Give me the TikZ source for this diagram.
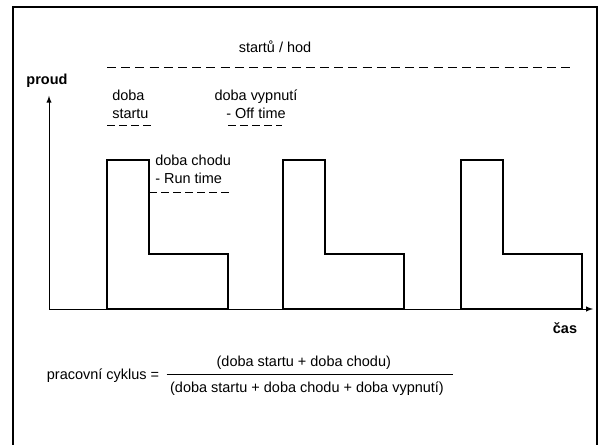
\documentclass[tikz,border=0pt]{standalone}
\usepackage{fontspec}
\setmainfont{Liberation Sans}
\begin{document}
\begin{tikzpicture}[popis/.style={inner sep=0pt,align=left,font=\fontsize{10.3}{12.6}\selectfont},
        tucne/.style={inner sep=0pt,font=\fontsize{10.3}{12.6}\selectfont\bfseries},
        carky/.style={line width=0.6pt,dash pattern=on 0.2cm off 0.1cm}]
        \useasboundingbox (-1.225,-3.375) rectangle (13.75,7.725);
        % frame, open at the bottom
        \draw[line width=1.4pt] (-0.89,-3.4) -- (-0.89,7.55) -- (13.71,7.55) -- (13.71,-3.4);
        \draw[line width=0.7pt,->,>=latex] (0,0) -- (13.6,0);
        \draw[line width=0.7pt,->,>=latex] (0,0) -- (0,5.33);
        \node[tucne] (proud) at (-0.05,5.7) {proud};
        \node[tucne] (cas) at (12.9,-0.475) {čas};
        % three current pulses
        \foreach \x in {1.45,5.85,10.3}
            \draw[line width=1.4pt] (\x,0) -- ++(0,3.725) -- ++(1.05,0) -- ++(0,-2.35) -- ++(1.975,0) -- ++(0,-1.375) -- cycle;
        \node[popis] (starty) at (5.65,6.55) {startů / hod};
        \draw[line width=0.6pt,dash pattern=on 0.225cm off 0.13cm] (1.45,6.05) -- (13.15,6.05);
        \node[popis,anchor=west] (startu) at (1.575,5.125) {doba\\startu};
        \draw[carky] (1.45,4.58) -- (2.575,4.58);
        \node[popis,align=center] (vypnuti) at (5.175,5.125) {doba vypnutí\\- Off time};
        \draw[carky] (4.475,4.58) -- (5.825,4.58);
        \node[popis,anchor=west] (chodu) at (2.65,3.5) {doba chodu\\- Run time};
        \draw[carky] (2.5,2.91) -- (4.575,2.91);
        % duty cycle
        \node[popis,anchor=west] (cyklus) at (-0.06,-1.675) {pracovní cyklus =};
        \node[popis] (citatel) at (6.37,-1.34) {(doba startu + doba chodu)};
        \node[popis] (jmenovatel) at (6.45,-2.0) {(doba startu + doba chodu + doba vypnutí)};
        \draw[line width=0.6pt] (2.94,-1.63) -- (10.09,-1.63);
    \end{tikzpicture}
\end{document}
